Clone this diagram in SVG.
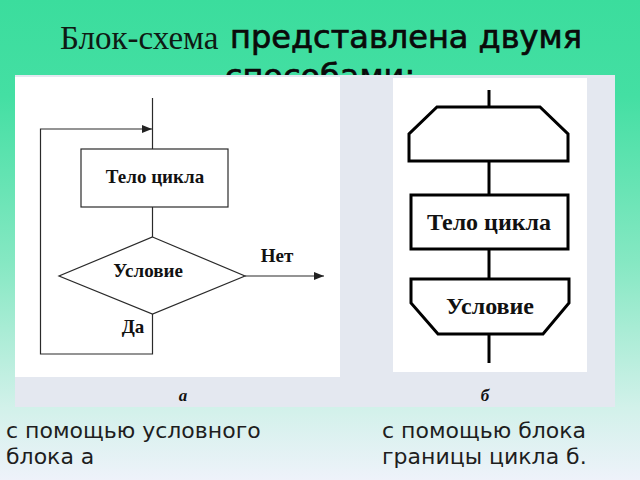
<svg xmlns="http://www.w3.org/2000/svg" width="640" height="480" viewBox="0 0 640 480">
  <defs>
    <linearGradient id="bg" x1="0" y1="0" x2="0" y2="1">
      <stop offset="0" stop-color="#3bdd9d"/>
      <stop offset="0.2" stop-color="#44dfa3"/>
      <stop offset="0.55" stop-color="#86e8c3"/>
      <stop offset="0.85" stop-color="#d2f1ea"/>
      <stop offset="1" stop-color="#eef2fa"/>
    </linearGradient>
    <marker id="arr" markerWidth="10" markerHeight="8" refX="10" refY="4" orient="auto" markerUnits="userSpaceOnUse">
      <path d="M0,0 L10,4 L0,8 Z" fill="#222"/>
    </marker>
    <style>
      .title-serif { font-family: "Liberation Serif", "Times New Roman", serif; font-size: 33px; fill: #0f1a14; }
      .title-sans { font-family: "DejaVu Sans", "Noto Sans", sans-serif; font-size: 32px; fill: #0a0a0a; stroke: #0a0a0a; stroke-width: 0.7; }
      .cap { font-family: "DejaVu Sans", "Noto Sans", sans-serif; font-size: 22px; fill: #1e1e1e; }
      .thin { stroke: #2a2a2a; stroke-width: 1.2; fill: none; }
      .thinbox { stroke: #2a2a2a; stroke-width: 1.2; fill: #fff; }
      .thick { stroke: #000; stroke-width: 3; fill: none; }
      .thickbox { stroke: #000; stroke-width: 3; fill: #fff; }
      .lbl-s { font-family: "Liberation Serif", "Times New Roman", serif; font-weight: bold; font-size: 19px; fill: #111; }
      .lbl-b { font-family: "Liberation Serif", "Times New Roman", serif; font-weight: bold; font-size: 24px; fill: #111; }
      .sub { font-family: "Liberation Serif", "Times New Roman", serif; font-weight: bold; font-style: italic; font-size: 17px; fill: #111; }
    </style>
  </defs>

  <rect x="0" y="0" width="640" height="480" fill="url(#bg)"/>

  <!-- title -->
  <text class="title-serif" x="60" y="49">Блок-схема</text>
  <text class="title-sans" x="230" y="48">представлена двумя</text>
  <text class="title-sans" x="320" y="87" text-anchor="middle">способами:</text>

  <!-- panel -->
  <rect x="15" y="75" width="600" height="332" fill="#e4e8f0"/>
  <rect x="15" y="77" width="325" height="300" fill="#ffffff"/>
  <rect x="393" y="78" width="194" height="294" fill="#ffffff"/>

  <!-- connectors -->
  <g id="connectors">
    <line class="thin" x1="152.5" y1="98" x2="152.5" y2="149"/>
    <polyline class="thin" points="152.5,314 152.5,354 40.5,354 40.5,129 152,129" marker-end="url(#arr)"/>
    <line class="thin" x1="152.5" y1="207" x2="152.5" y2="237"/>
    <line class="thin" x1="245" y1="276" x2="324" y2="276" marker-end="url(#arr)"/>

    <line class="thick" x1="489" y1="90" x2="489" y2="107"/>
    <line class="thick" x1="489" y1="161" x2="489" y2="195"/>
    <line class="thick" x1="489" y1="249" x2="489" y2="279"/>
    <line class="thick" x1="489" y1="334" x2="489" y2="363"/>
  </g>

  <!-- left diagram nodes -->
  <g id="a-body">
    <rect class="thinbox" x="81" y="149" width="147" height="58"/>
    <text class="lbl-s" x="155" y="183" text-anchor="middle">Тело цикла</text>
  </g>
  <g id="a-cond">
    <polygon class="thinbox" points="152.5,237 245,276 152.5,314 59,276"/>
    <text class="lbl-s" x="148" y="277" text-anchor="middle">Условие</text>
  </g>
  <g id="a-labels">
    <text class="lbl-s" x="277" y="262" text-anchor="middle">Нет</text>
    <text class="lbl-s" x="133" y="333" text-anchor="middle">Да</text>
    <text class="sub" x="183" y="401" text-anchor="middle">а</text>
  </g>

  <!-- right diagram nodes -->
  <g id="b-start">
    <polygon class="thickbox" points="437,107 540,107 568,134 568,161 409,161 409,134"/>
  </g>
  <g id="b-body">
    <rect class="thickbox" x="411" y="195" width="157" height="54"/>
    <text class="lbl-b" x="489" y="230" text-anchor="middle">Тело цикла</text>
  </g>
  <g id="b-end">
    <polygon class="thickbox" points="411,279 569,279 569,303 543,334 438,334 411,303"/>
    <text class="lbl-b" x="490" y="314" text-anchor="middle">Условие</text>
  </g>
  <g id="b-label">
    <text class="sub" x="485" y="401" text-anchor="middle">б</text>
  </g>

  <!-- captions -->
  <text class="cap" x="6" y="438">с помощью условного</text>
  <text class="cap" x="6" y="464">блока а</text>
  <text class="cap" x="382" y="438">с помощью блока</text>
  <text class="cap" x="382" y="464">границы цикла б.</text>
</svg>
